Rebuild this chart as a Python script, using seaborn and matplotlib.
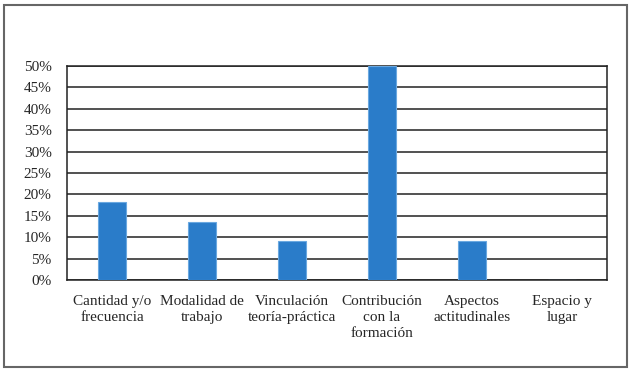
import matplotlib
matplotlib.use("Agg")
import matplotlib.pyplot as plt
import seaborn as sns
import pandas as pd
from matplotlib.patches import Rectangle

# datos
categorias = ["Cantidad y/o\nfrecuencia", "Modalidad de\ntrabajo", "Vinculación\nteoría-práctica",
              "Contribución\ncon la\nformación", "Aspectos\nactitudinales", "Espacio y\nlugar"]
porcentajes = [18.2, 13.6, 9.1, 50.0, 9.1, 0.0]
ticks_y = [0, 5, 10, 15, 20, 25, 30, 35, 40, 45, 50]

df = pd.DataFrame({"categoria": categorias, "valor": porcentajes})

sns.set_style("white")
plt.rcParams["font.family"] = ["Liberation Serif", "DejaVu Serif"]

fig = plt.figure(figsize=(6.33, 3.71), dpi=100)
ax = fig.add_axes([67/633, 1 - 280/371, 540/633, 214/371])

sns.barplot(data=df, x="categoria", y="valor", color="#2a7cc9", width=0.31,
            edgecolor="#6aa8e0", linewidth=0.8, saturation=1, ax=ax, zorder=3)

ax.set_ylim(0, 50)
ax.set_yticks(ticks_y)
ax.set_yticklabels([f"{t}%" for t in ticks_y], fontsize=11)
ax.set_xticks(range(len(categorias)))
ax.set_xticklabels(categorias, fontsize=11, linespacing=1.3)
ax.set_xlim(-0.5, len(categorias) - 0.5)
ax.yaxis.grid(True, color="#222222", linewidth=1.1, zorder=0)
ax.set_axisbelow(True)
ax.tick_params(axis="both", length=0)
ax.tick_params(axis="y", pad=11)
ax.tick_params(axis="x", pad=11)
ax.set_xlabel("")
ax.set_ylabel("")
for s in ax.spines.values():
    s.set_visible(True)
    s.set_color("#222222")
    s.set_linewidth(1.1)

# marco exterior
fig.patches.append(Rectangle((4/633, 4/371), 623/633, 362/371, transform=fig.transFigure,
                             fill=False, edgecolor="#666666", linewidth=1.5))

fig.savefig("out.png", dpi=100)
